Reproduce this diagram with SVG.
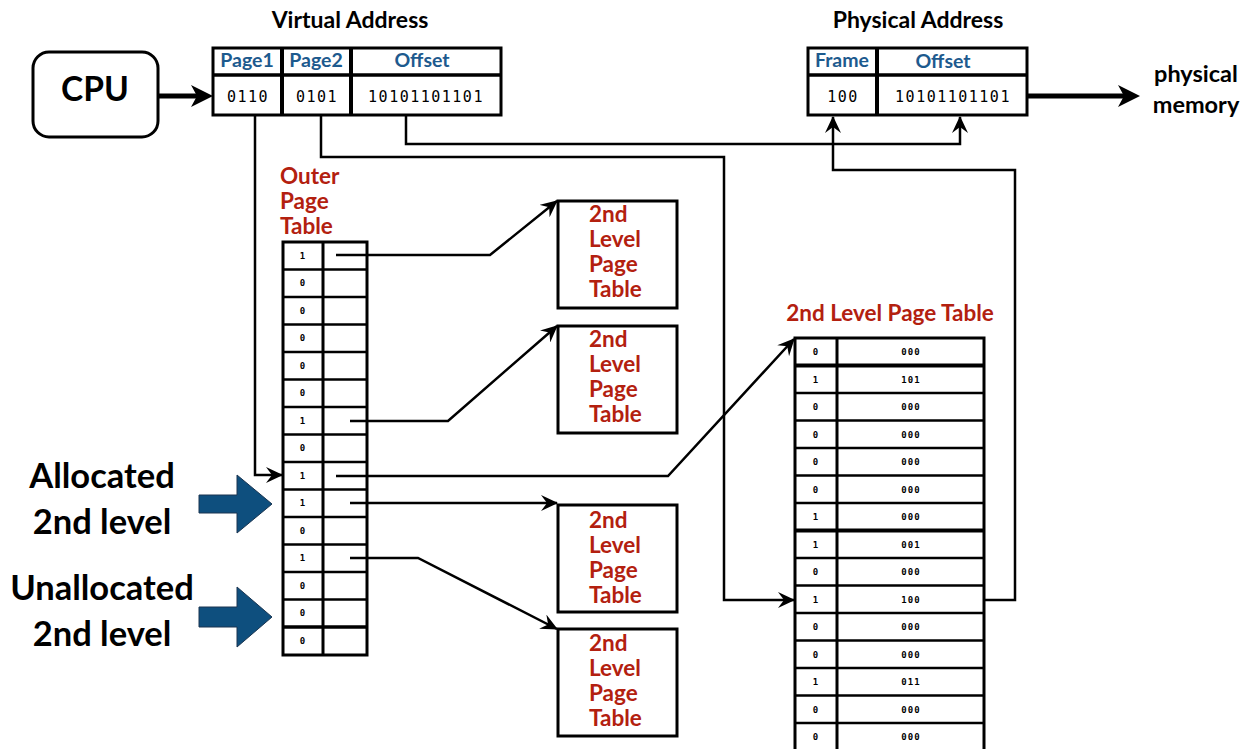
<svg xmlns="http://www.w3.org/2000/svg" width="1253" height="749" viewBox="0 0 1253 749">
<style>
.bx{fill:#fff;stroke:#000;stroke-width:3}
.ln{fill:none;stroke:#000;stroke-width:2.5}
.thk{fill:none;stroke:#000;stroke-width:5}
.ttl{font-family:Lato,"Open Sans",sans-serif;font-weight:bold;fill:#000}
.hdr{font-family:Lato,"Open Sans",sans-serif;font-weight:bold;fill:#1d5a8e;font-size:19.5px;text-anchor:middle}
.bits{font-family:"DejaVu Sans Mono",monospace;font-size:15px;letter-spacing:1.5px;fill:#000;text-anchor:middle}
.red{font-family:Lato,"Open Sans",sans-serif;font-weight:bold;fill:#b3200f;font-size:22.5px}
.sm{font-family:"DejaVu Sans Mono",monospace;font-size:9px;font-weight:bold;letter-spacing:1px;fill:#000;text-anchor:middle}
.big{font-family:Lato,"Open Sans",sans-serif;font-weight:bold;fill:#000;font-size:34.5px;text-anchor:middle}
.blue{fill:#0e4f7e;stroke:#1b3550;stroke-width:1}
</style>
<defs>
<marker id="ah" markerUnits="userSpaceOnUse" markerWidth="18" markerHeight="16" refX="16" refY="8" orient="auto">
<path d="M0,0 L17,8 L0,16 L6,8 z" fill="#000"/>
</marker>
<marker id="ahb" markerUnits="userSpaceOnUse" markerWidth="24" markerHeight="22" refX="6" refY="11" orient="auto">
<path d="M0,0 L22,11 L0,22 L6,11 z" fill="#000"/>
</marker>
</defs>

<g id="cpu">
<rect x="33" y="52" width="125" height="85" rx="16" ry="16" class="bx" stroke-width="1.5"/>
<text x="95" y="101" class="ttl" font-size="33.5" text-anchor="middle">CPU</text>
</g>

<g id="virtual-address">
<text x="350" y="28" class="ttl" font-size="23" text-anchor="middle">Virtual Address</text>
<rect x="213" y="48" width="288" height="67" class="bx"/>
<line x1="213" y1="75" x2="501" y2="75" stroke="#000" stroke-width="3.5"/>
<line x1="282" y1="48" x2="282" y2="115" stroke="#000" stroke-width="4"/>
<line x1="351" y1="48" x2="351" y2="115" stroke="#000" stroke-width="4"/>
<text x="247" y="67" class="hdr">Page1</text>
<text x="316" y="67" class="hdr">Page2</text>
<text x="422" y="67" class="hdr">Offset</text>
<text x="248" y="102" class="bits">0110</text>
<text x="317" y="102" class="bits">0101</text>
<text x="426" y="102" class="bits">10101101101</text>
</g>

<g id="physical-address">
<text x="918" y="28" class="ttl" font-size="23" text-anchor="middle">Physical Address</text>
<rect x="808" y="48" width="219" height="67" class="bx"/>
<line x1="808" y1="75" x2="1027" y2="75" stroke="#000" stroke-width="3.5"/>
<line x1="877" y1="48" x2="877" y2="115" stroke="#000" stroke-width="4"/>
<text x="842" y="67" class="hdr">Frame</text>
<text x="943" y="68" class="hdr">Offset</text>
<text x="843" y="102" class="bits">100</text>
<text x="953" y="102" class="bits">10101101101</text>
</g>

<g id="physical-memory">
<text x="1196" y="82" class="ttl" font-size="23.5" text-anchor="middle">physical</text>
<text x="1196" y="113" class="ttl" font-size="23.5" text-anchor="middle">memory</text>
</g>

<g id="outer-page-table">
<text x="280" y="184" class="red" font-size="21.5">Outer</text>
<text x="280" y="209" class="red" font-size="21.5">Page</text>
<text x="280" y="234" class="red" font-size="21.5">Table</text>
<rect x="283" y="242" width="84" height="413" class="bx"/>
<line x1="323" y1="242" x2="323" y2="655" stroke="#000" stroke-width="3"/>
<g stroke="#000" stroke-width="2.5">
<line x1="283" y1="269.5" x2="367" y2="269.5"/>
<line x1="283" y1="297" x2="367" y2="297"/>
<line x1="283" y1="324.5" x2="367" y2="324.5"/>
<line x1="283" y1="352" x2="367" y2="352"/>
<line x1="283" y1="379.5" x2="367" y2="379.5"/>
<line x1="283" y1="407" x2="367" y2="407"/>
<line x1="283" y1="434.5" x2="367" y2="434.5"/>
<line x1="283" y1="462" x2="367" y2="462"/>
<line x1="283" y1="489.5" x2="367" y2="489.5"/>
<line x1="283" y1="517" x2="367" y2="517"/>
<line x1="283" y1="544.5" x2="367" y2="544.5"/>
<line x1="283" y1="572" x2="367" y2="572"/>
<line x1="283" y1="599.5" x2="367" y2="599.5"/>
<line x1="283" y1="627" x2="367" y2="627" stroke-width="3.5"/>
</g>
<text x="303" y="259" class="sm">1</text>
<text x="303" y="286" class="sm">0</text>
<text x="303" y="314" class="sm">0</text>
<text x="303" y="341" class="sm">0</text>
<text x="303" y="369" class="sm">0</text>
<text x="303" y="396" class="sm">0</text>
<text x="303" y="424" class="sm">1</text>
<text x="303" y="451" class="sm">0</text>
<text x="303" y="479" class="sm">1</text>
<text x="303" y="506" class="sm">1</text>
<text x="303" y="534" class="sm">0</text>
<text x="303" y="561" class="sm">1</text>
<text x="303" y="589" class="sm">0</text>
<text x="303" y="616" class="sm">0</text>
<text x="303" y="644" class="sm">0</text>
</g>

<g id="l2-box-1">
<rect x="558" y="201" width="119" height="107" class="bx"/>
<text x="589" y="222" class="red">2nd</text>
<text x="589" y="247" class="red">Level</text>
<text x="589" y="272" class="red">Page</text>
<text x="589" y="297" class="red">Table</text>
</g>
<g id="l2-box-2">
<rect x="558" y="326" width="119" height="107" class="bx"/>
<text x="589" y="347" class="red">2nd</text>
<text x="589" y="372" class="red">Level</text>
<text x="589" y="397" class="red">Page</text>
<text x="589" y="422" class="red">Table</text>
</g>
<g id="l2-box-3">
<rect x="558" y="505" width="119" height="107" class="bx"/>
<text x="589" y="528" class="red">2nd</text>
<text x="589" y="553" class="red">Level</text>
<text x="589" y="578" class="red">Page</text>
<text x="589" y="603" class="red">Table</text>
</g>
<g id="l2-box-4">
<rect x="558" y="629" width="119" height="107" class="bx"/>
<text x="589" y="651" class="red">2nd</text>
<text x="589" y="676" class="red">Level</text>
<text x="589" y="701" class="red">Page</text>
<text x="589" y="726" class="red">Table</text>
</g>

<g id="l2-page-table">
<text x="890" y="321" class="red" font-size="22" text-anchor="middle">2nd Level Page Table</text>
<rect x="795" y="338" width="189" height="415" class="bx"/>
<line x1="837" y1="338" x2="837" y2="753" stroke="#000" stroke-width="3"/>
<g stroke="#000" stroke-width="2.5">
<line x1="795" y1="365.5" x2="984" y2="365.5" stroke-width="4"/>
<line x1="795" y1="393" x2="984" y2="393"/>
<line x1="795" y1="420.5" x2="984" y2="420.5"/>
<line x1="795" y1="448" x2="984" y2="448"/>
<line x1="795" y1="475.5" x2="984" y2="475.5"/>
<line x1="795" y1="503" x2="984" y2="503"/>
<line x1="795" y1="530.5" x2="984" y2="530.5" stroke-width="4"/>
<line x1="795" y1="558" x2="984" y2="558"/>
<line x1="795" y1="585.5" x2="984" y2="585.5"/>
<line x1="795" y1="613" x2="984" y2="613"/>
<line x1="795" y1="640.5" x2="984" y2="640.5"/>
<line x1="795" y1="668" x2="984" y2="668"/>
<line x1="795" y1="695.5" x2="984" y2="695.5"/>
<line x1="795" y1="723" x2="984" y2="723"/>
</g>
<text x="816" y="355" class="sm">0</text><text x="911" y="355" class="sm">000</text>
<text x="816" y="383" class="sm">1</text><text x="911" y="383" class="sm">101</text>
<text x="816" y="410" class="sm">0</text><text x="911" y="410" class="sm">000</text>
<text x="816" y="438" class="sm">0</text><text x="911" y="438" class="sm">000</text>
<text x="816" y="465" class="sm">0</text><text x="911" y="465" class="sm">000</text>
<text x="816" y="493" class="sm">0</text><text x="911" y="493" class="sm">000</text>
<text x="816" y="520" class="sm">1</text><text x="911" y="520" class="sm">000</text>
<text x="816" y="548" class="sm">1</text><text x="911" y="548" class="sm">001</text>
<text x="816" y="575" class="sm">0</text><text x="911" y="575" class="sm">000</text>
<text x="816" y="603" class="sm">1</text><text x="911" y="603" class="sm">100</text>
<text x="816" y="630" class="sm">0</text><text x="911" y="630" class="sm">000</text>
<text x="816" y="658" class="sm">0</text><text x="911" y="658" class="sm">000</text>
<text x="816" y="685" class="sm">1</text><text x="911" y="685" class="sm">011</text>
<text x="816" y="713" class="sm">0</text><text x="911" y="713" class="sm">000</text>
<text x="816" y="740" class="sm">0</text><text x="911" y="740" class="sm">000</text>
</g>

<g id="legend">
<text x="102" y="488" class="big">Allocated</text>
<text x="102" y="534" class="big">2nd level</text>
<polygon class="blue" points="199,495 237,495 237,475 272,504 237,533 237,513 199,513"/>
<text x="102" y="600" class="big">Unallocated</text>
<text x="102" y="646" class="big">2nd level</text>
<polygon class="blue" points="199,607 237,607 237,587 272,617 237,647 237,627 199,627"/>
</g>

<g id="connectors">
<line x1="158" y1="96" x2="197" y2="96" class="thk" marker-end="url(#ahb)"/>
<line x1="1027" y1="96" x2="1124" y2="96" class="thk" marker-end="url(#ahb)"/>
<path d="M255,115 V475 H282" class="ln" marker-end="url(#ah)"/>
<path d="M321,115 V157 H724 V600 H794" class="ln" marker-end="url(#ah)"/>
<path d="M406,115 V144 H960 V117" class="ln" marker-end="url(#ah)"/>
<path d="M985,600 H1015 V170 H833 V117" class="ln" marker-end="url(#ah)"/>
<path d="M336,255 H490 L557,201" class="ln" marker-end="url(#ah)"/>
<path d="M350,421 H448 L557,326" class="ln" marker-end="url(#ah)"/>
<path d="M336,476 H668 L794,339" class="ln" marker-end="url(#ah)"/>
<path d="M350,503 H557" class="ln" marker-end="url(#ah)"/>
<path d="M350,558 H418 L557,629" class="ln" marker-end="url(#ah)"/>
</g>
</svg>
